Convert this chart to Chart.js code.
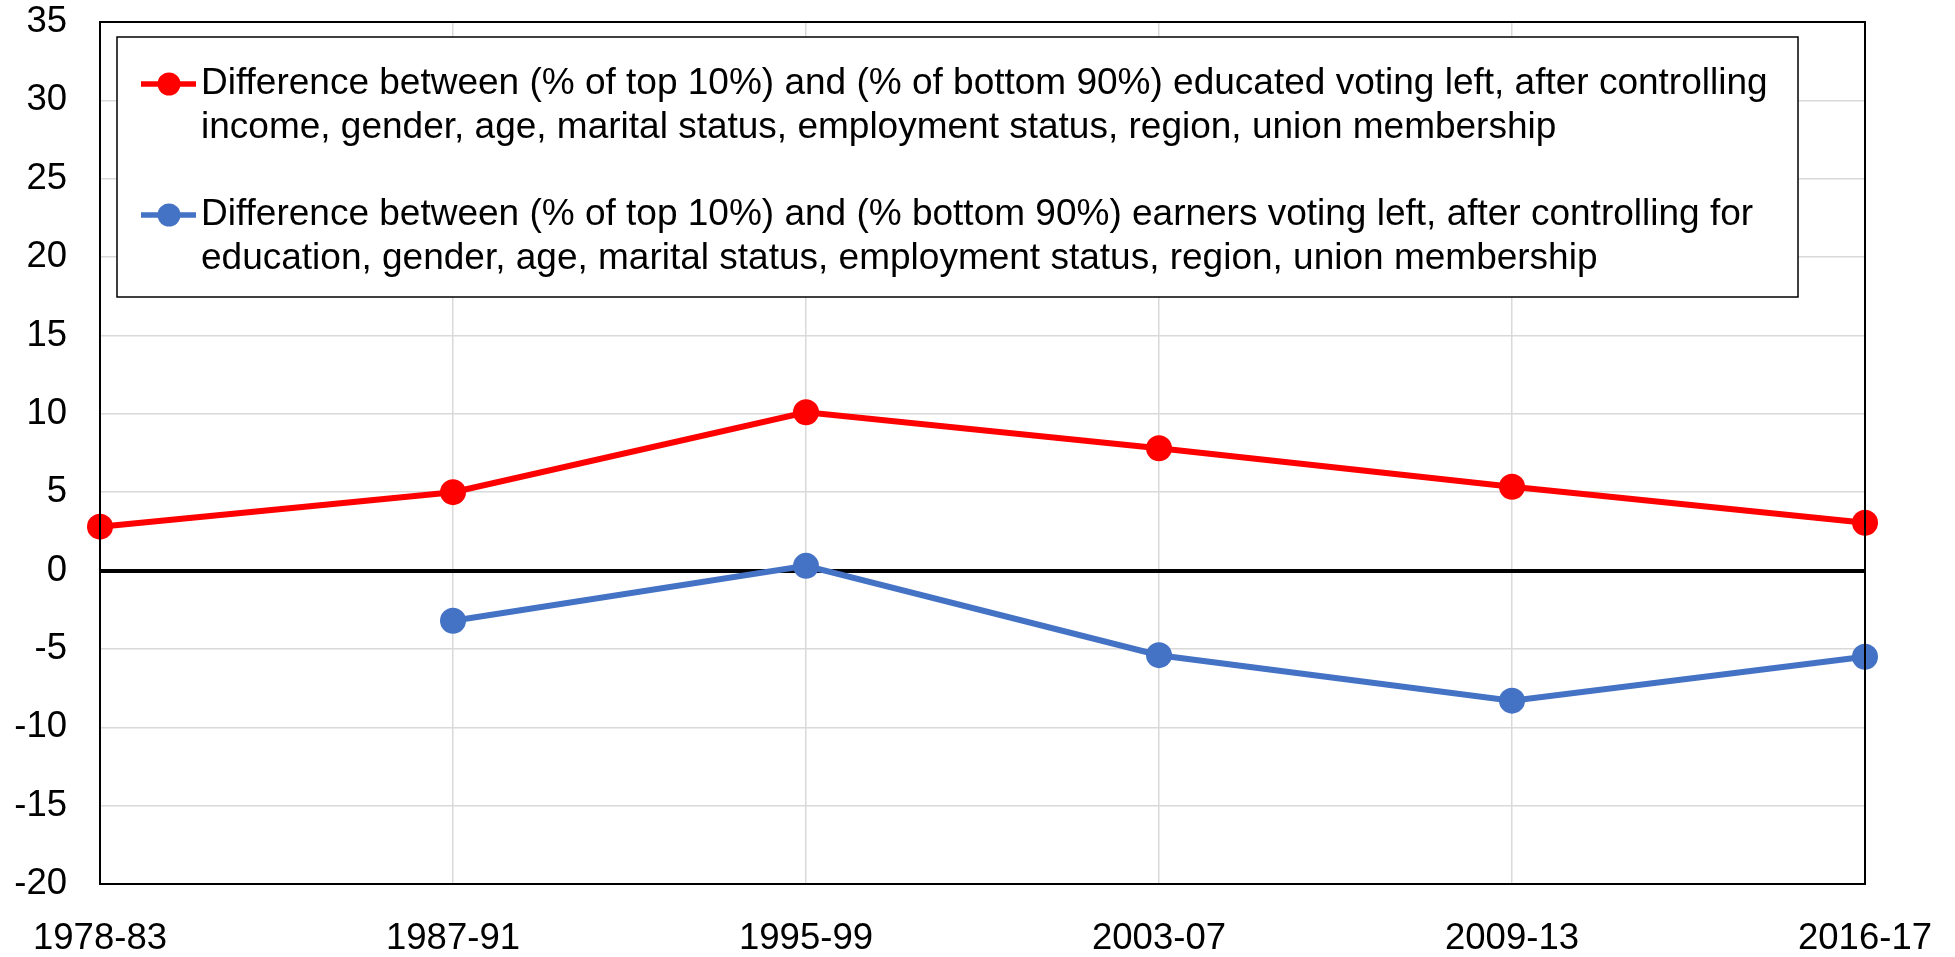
<!DOCTYPE html>
<html>
<head>
<meta charset="utf-8">
<script src="https://cdn.jsdelivr.net/npm/chart.js@4.4.1/dist/chart.umd.min.js"></script>
<style>
  html, body { margin: 0; padding: 0; background: #fff; }
</style>
</head>
<body>
<canvas id="myChart" width="1955" height="957"></canvas>
<script>
// periods on the x axis
const periods = ['1978-83', '1987-91', '1995-99', '2003-07', '2009-13', '2016-17'];

// top 10% educated vs bottom 90% (red)
const educatedGap = [2.8, 5.0, 10.1, 7.8, 5.35, 3.05];
// top 10% earners vs bottom 90% (blue), no value for the first period
const earnersGap = [null, -3.2, 0.3, -5.4, -8.3, -5.5];

const educatedLabel = [
  'Difference between (% of top 10%) and (% of bottom 90%) educated voting left, after controlling',
  'income, gender, age, marital status, employment status, region, union membership'
];
const earnersLabel = [
  'Difference between (% of top 10%) and (% bottom 90%) earners voting left, after controlling for',
  'education, gender, age, marital status, employment status, region, union membership'
];

const yMin = -20, yMax = 35, yStep = 5;

const FONT = '"Liberation Sans", Arial, sans-serif';

// legend drawn as a boxed block inside the plot, like the original
const boxLegend = {
  id: 'boxLegend',
  afterDraw(chart) {
    const ctx = chart.ctx;
    const a = chart.chartArea;
    // frame around plot area
    ctx.save();
    ctx.strokeStyle = '#000';
    ctx.lineWidth = 2;
    ctx.strokeRect(a.left, a.top, a.right - a.left, a.bottom - a.top);

    const bx = a.left + 17, by = a.top + 15, bw = 1681, bh = 260;
    ctx.fillStyle = '#fff';
    ctx.fillRect(bx, by, bw, bh);
    ctx.lineWidth = 1.5;
    ctx.strokeRect(bx, by, bw, bh);

    ctx.font = '37px ' + FONT;
    ctx.textBaseline = 'middle';
    ctx.textAlign = 'left';
    const rowY = [by + 47, by + 178];
    chart.data.datasets.forEach((ds, i) => {
      const y = rowY[i];
      ctx.strokeStyle = ds.borderColor;
      ctx.lineWidth = 5.5;
      ctx.beginPath();
      ctx.moveTo(bx + 24, y);
      ctx.lineTo(bx + 79, y);
      ctx.stroke();
      ctx.fillStyle = ds.pointBackgroundColor;
      ctx.beginPath();
      ctx.arc(bx + 52, y, 11.5, 0, Math.PI * 2);
      ctx.fill();
      ctx.fillStyle = '#000';
      ds.legendLines.forEach((t, j) => {
        ctx.fillText(t, bx + 84, y + j * 44);
      });
    });
    ctx.restore();
  }
};

var canvas = document.getElementById('myChart').getContext('2d');
var data = {
  labels: periods,
  datasets: [{
    label: educatedLabel.join(' '),
    legendLines: educatedLabel,
    data: educatedGap,
    borderColor: '#ff0000',
    backgroundColor: '#ff0000',
    pointBackgroundColor: '#ff0000',
    pointBorderColor: '#ff0000',
    borderWidth: 6,
    pointRadius: 13,
    pointBorderWidth: 0,
  }, {
    label: earnersLabel.join(' '),
    legendLines: earnersLabel,
    data: earnersGap,
    borderColor: '#4472c4',
    backgroundColor: '#4472c4',
    pointBackgroundColor: '#4472c4',
    pointBorderColor: '#4472c4',
    borderWidth: 6,
    pointRadius: 13,
    pointBorderWidth: 0,
  }],
};

var option = {
  responsive: false,
  animation: false,
  layout: { padding: { top: 22, right: 90, left: 0, bottom: 0 } },
  plugins: {
    legend: { display: false },
    tooltip: { enabled: false },
  },
  scales: {
    x: {
      offset: false,
      grid: { color: '#d9d9d9', lineWidth: 1.5, drawTicks: false },
      border: { color: '#000', width: 2 },
      ticks: { color: '#000', font: { family: FONT, size: 36.5 }, padding: 33, maxRotation: 0, autoSkip: false },
      afterFit(scale) {
        scale.height = 73;
        scale.paddingLeft = 0; scale.paddingRight = 0;
        scale.paddingTop = 0; scale.paddingBottom = 0;
      },
    },
    y: {
      min: yMin,
      max: yMax,
      grid: {
        drawTicks: false,
        color: (c) => (c.tick && c.tick.value === 0 ? '#000' : '#d9d9d9'),
        lineWidth: (c) => (c.tick && c.tick.value === 0 ? 4 : 1.5),
      },
      border: { color: '#000', width: 2 },
      ticks: { stepSize: yStep, color: '#000', font: { family: FONT, size: 36.5 }, padding: 33 },
      afterFit(scale) {
        scale.width = 100;
        scale.paddingTop = 0; scale.paddingBottom = 0;
        scale.paddingLeft = 0; scale.paddingRight = 0;
      },
    },
  },
};

var myLineChart = new Chart(canvas, { type: 'line', data: data, options: option, plugins: [boxLegend] });
</script>
</body>
</html>
